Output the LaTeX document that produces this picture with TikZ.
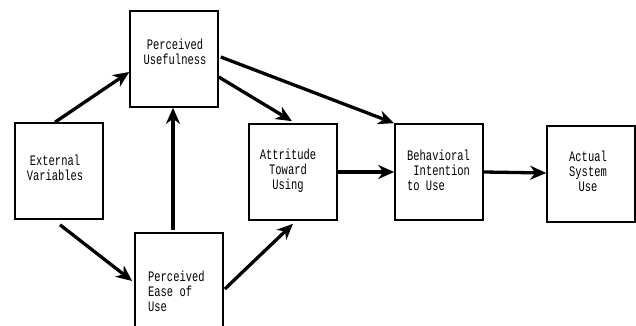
\documentclass[tikz,border=0pt]{standalone}
\usepackage{fontspec}
\setmonofont{Liberation Mono}
\usetikzlibrary{arrows.meta,calc}
\tikzset{
  box/.style={draw, line width=1.6pt, minimum width=88pt, minimum height=96pt, inner sep=0pt, fill=white},
  txt/.style={font=\ttfamily\fontsize{14.5pt}{15pt}\selectfont, inner sep=0pt},
  arr/.style={line width=3.3pt, -{Stealth[length=16pt,width=14pt,inset=5pt]}},
}
\newcommand{\nar}[1]{\scalebox{0.72}[1]{#1}}
\begin{document}
\begin{tikzpicture}[x=1pt,y=-1pt]
\useasboundingbox (0,0) rectangle (636,326);
\fill[white] (0,0) rectangle (636,326);
\clip (0,0) rectangle (636,326);
\node[box] (ev) at (59,171) {};
\node[box] (pu) at (174,59) {};
\node[box] (peou) at (179,281) {};
\node[box] (atu) at (293,172) {};
\node[box] (bi) at (439,172) {};
\node[box] (asu) at (591,174) {};
\node[txt, align=center] (evt) at (55,168) {\nar{External}\\\nar{Variables}};
\node[txt, align=center] (put) at (175,52) {\nar{Perceived}\\\nar{Usefulness}};
\node[txt, align=left, anchor=north west] (peout) at (148,271) {\nar{Perceived}\\\nar{Ease of}\\\nar{Use}};
\node[txt, align=center] (atut) at (288,171) {\nar{Attritude}\\\nar{Toward}\\\nar{Using}};
\node[txt, align=left, anchor=north west] (bit) at (407,150) {\nar{Behavioral}\\\nar{\ Intention}\\\nar{to Use}};
\node[txt, align=center] (asut) at (588,171) {\nar{Actual}\\\nar{System}\\\nar{Use}};
\draw[arr] ($(ev.north)+(-4,0)$) -- ($(pu.west)+(0,13)$);
\draw[arr] ($(ev.south)+(1,5)$) -- ($(peou.west)+(-2,0)$);
\draw[arr] ($(peou.north)+(-6,-2)$) -- ($(pu.south)+(-1,0)$);
\draw[arr] ($(pu.east)+(0,18)$) -- ($(atu.north)+(-1,-2)$);
\draw[arr] ($(pu.east)+(2,-2)$) -- (bi.north west);
\draw[arr] ($(peou.east)+(1,8)$) -- ($(atu.south)+(0,3)$);
\draw[arr] (atu.east) -- (bi.west);
\draw[arr] (bi.east) -- ($(asu.west)+(0,-1)$);
\end{tikzpicture}
\end{document}
